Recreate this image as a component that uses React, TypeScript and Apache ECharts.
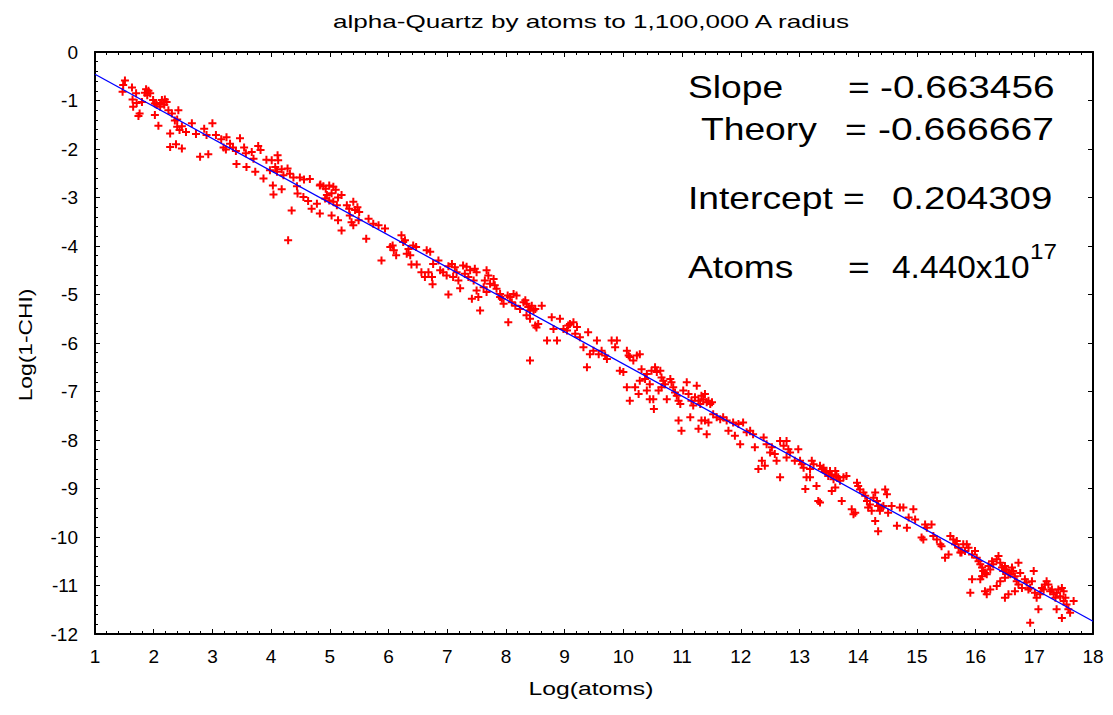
import React, { useEffect, useRef } from "react";
import * as echarts from "echarts";

const FONT = "'Liberation Sans', Arial, Helvetica, sans-serif";

const titleText = "alpha-Quartz by atoms to 1,100,000 A radius";
const xName = "Log(atoms)";
const yName = "Log(1-CHI)";

const xTicks = { min: 1, max: 18, step: 1 };
const yTicks = { min: -12, max: 0, step: 1 };

// fit line endpoints (slope -0.663456, intercept 0.204309)
const fitLine: [number, number][] = [
  [1, -0.459],
  [18, -11.738],
];

const statLabels = ["Slope", "Theory", "Intercept", "Atoms"];
const statValues = ["-0.663456", "-0.666667", "0.204309", "4.440x10"];
const atomsExponent = "17";

const pointsA: [number, number][] = [
  [1.51, -0.59], [1.48, -0.68], [1.47, -0.82], [1.63, -0.73], [1.7, -0.85], [1.64, -0.98], [1.71, -1.05],
  [1.65, -1.13], [1.76, -1.27], [1.74, -1.32], [1.87, -0.77], [1.91, -0.8], [1.94, -0.85], [1.85, -0.84],
  [1.89, -0.89], [1.8, -1.03], [1.99, -0.99], [2.02, -1.06], [2.05, -1.09], [2.11, -1.05], [2.14, -0.99],
  [2.19, -0.98], [2.22, -1.03], [2.18, -1.09], [2.11, -1.13], [2.25, -1.2], [2.31, -1.27], [2.42, -1.2],
  [2.4, -1.39], [2.36, -1.41], [2.02, -1.3], [2.08, -1.52], [2.28, -1.68], [2.4, -1.54], [2.44, -1.61],
  [2.48, -1.53], [2.55, -1.65], [2.65, -1.47], [2.28, -1.96], [2.38, -1.9], [2.48, -1.99], [2.72, -1.69],
  [2.86, -1.58], [3.0, -1.47], [2.9, -1.71], [2.79, -2.16], [2.93, -2.11], [3.06, -1.71], [3.15, -1.8],
  [3.24, -1.76], [3.19, -1.97], [3.23, -2.01], [3.3, -1.89], [3.35, -1.97], [3.47, -1.78], [3.4, -2.04],
  [3.41, -2.31], [3.54, -1.97], [3.57, -2.09], [3.67, -2.06], [3.78, -1.94], [3.82, -2.02], [3.7, -2.2],
  [3.58, -2.37], [3.73, -2.47], [3.87, -2.61], [3.92, -2.22], [4.01, -2.23], [4.11, -2.13], [4.12, -2.23],
  [4.07, -2.37], [3.98, -2.44], [4.1, -2.47], [4.18, -2.42], [4.21, -2.54], [4.03, -2.75], [4.04, -2.94],
  [4.18, -2.83], [4.28, -2.4], [4.32, -2.51], [4.38, -2.59], [4.44, -2.77], [4.49, -2.59], [4.56, -2.63],
  [4.66, -2.62], [4.45, -2.92], [4.55, -2.99], [4.63, -3.07], [4.35, -3.27], [4.29, -3.88], [4.83, -2.75],
  [4.78, -3.13], [4.69, -3.23], [4.83, -3.33],
];

const pointsB: [number, number][] = [
  [4.84, -2.73], [4.89, -2.77], [4.93, -2.82], [4.99, -2.75], [5.06, -2.78], [5.1, -2.84], [5.03, -2.91],
  [4.95, -2.95], [4.92, -3.02], [4.99, -3.06], [5.06, -3.09], [5.14, -3.0], [5.2, -2.95], [5.12, -3.16],
  [5.03, -3.37], [5.14, -3.47], [5.2, -3.68], [5.29, -3.16], [5.33, -3.23], [5.4, -3.09], [5.43, -3.26],
  [5.47, -3.2], [5.5, -3.3], [5.34, -3.37], [5.37, -3.51], [5.4, -3.57], [5.49, -3.47], [5.66, -3.44],
  [5.62, -3.85], [5.74, -3.54], [5.83, -3.57], [5.94, -3.64], [5.88, -4.3], [6.03, -4.02], [6.07, -3.99],
  [6.13, -4.19], [6.09, -4.09], [6.22, -3.78], [6.28, -3.88], [6.31, -4.16], [6.25, -3.92], [6.34, -4.06],
  [6.37, -4.19], [6.42, -3.99], [6.47, -4.02], [6.39, -4.38], [6.48, -4.38], [6.65, -4.09], [6.71, -4.12],
  [6.85, -4.3], [6.76, -4.37], [6.68, -4.54], [6.62, -4.64], [6.56, -4.54], [6.74, -4.64], [6.75, -4.79],
  [6.88, -4.5], [6.93, -4.54], [6.99, -4.61], [7.02, -4.42], [7.08, -4.37], [7.13, -4.44], [7.16, -4.54],
  [7.19, -4.71], [7.1, -4.64], [7.02, -5.0], [7.22, -4.87], [7.27, -4.4], [7.33, -4.43], [7.39, -4.5],
  [7.3, -4.57], [7.36, -4.64], [7.47, -4.47], [7.5, -4.54], [7.45, -4.71], [7.5, -4.92], [7.53, -5.05],
  [7.42, -5.09], [7.56, -5.33], [7.64, -4.71], [7.67, -4.5], [7.7, -4.61], [7.73, -4.78], [7.79, -4.68],
  [7.81, -4.81], [7.62, -4.85], [7.67, -4.95], [7.84, -4.88], [7.9, -4.99], [7.9, -5.05],
];

const pointsC: [number, number][] = [
  [7.93, -5.09], [7.96, -5.19], [8.03, -5.02], [8.07, -5.05], [8.13, -4.99], [8.18, -5.02], [8.1, -5.16],
  [8.16, -5.23], [8.24, -5.3], [8.3, -5.16], [8.33, -5.12], [8.35, -5.19], [8.38, -5.26], [8.41, -5.33],
  [8.44, -5.23], [8.47, -5.33], [8.5, -5.3], [8.35, -5.43], [8.41, -5.5], [8.5, -5.64], [8.52, -5.68],
  [8.55, -5.61], [8.04, -5.57], [8.41, -6.36], [8.61, -5.23], [8.7, -5.95], [8.78, -5.47], [8.81, -5.71],
  [8.87, -5.95], [8.92, -5.5], [8.98, -5.71], [9.04, -5.74], [9.06, -5.64], [9.09, -5.61], [9.15, -5.57],
  [9.18, -5.81], [9.21, -5.67], [9.26, -5.88], [9.32, -6.09], [9.38, -6.5], [9.4, -5.78], [9.43, -6.23],
  [9.49, -6.16], [9.55, -5.95], [9.58, -6.23], [9.63, -6.16], [9.69, -6.26], [9.72, -6.33], [9.8, -5.95],
  [9.89, -5.95], [9.86, -6.09], [9.94, -6.57], [10.0, -6.6], [10.06, -6.16], [10.09, -6.26], [10.11, -6.29],
  [10.17, -6.36], [10.2, -6.91], [10.23, -6.26], [10.28, -6.23], [10.31, -6.54], [10.37, -6.74],
  [10.4, -6.64], [10.45, -6.85], [10.11, -7.19], [10.26, -7.05], [10.28, -6.78], [10.06, -6.91],
  [10.4, -6.98], [10.45, -7.16],
];

const pointsD: [number, number][] = [
  [10.48, -6.57], [10.54, -6.5], [10.57, -6.6], [10.63, -6.57], [10.65, -6.71], [10.68, -6.78],
  [10.71, -6.85], [10.74, -7.16], [10.65, -6.91], [10.6, -6.98], [10.51, -7.16], [10.52, -7.36],
  [10.8, -6.74], [10.82, -6.81], [10.85, -6.91], [10.88, -7.02], [10.91, -7.09], [10.94, -7.19],
  [10.97, -7.26], [10.94, -7.6], [10.99, -7.81], [11.02, -6.98], [11.08, -6.81], [11.11, -7.05],
  [11.16, -7.19], [11.19, -7.29], [11.22, -7.12], [11.25, -6.88], [11.28, -7.19], [11.31, -7.26],
  [11.33, -7.09], [11.36, -7.16], [11.39, -7.05], [11.42, -7.22], [11.45, -7.19], [11.48, -7.26],
  [11.51, -7.22], [11.14, -7.53], [11.28, -7.77], [11.33, -7.6], [11.39, -7.6], [11.45, -7.64],
  [11.42, -7.88], [11.53, -7.47], [11.59, -7.53], [11.65, -7.57], [11.7, -7.53], [11.76, -7.6],
  [11.79, -7.81], [11.9, -7.91], [11.87, -7.64], [11.96, -7.67], [12.04, -7.64], [11.99, -8.09],
  [12.1, -7.84], [12.16, -7.81], [12.21, -7.88], [12.24, -8.15], [12.3, -8.6], [12.36, -8.43],
  [12.41, -8.53], [12.39, -7.95], [12.44, -8.09], [12.53, -8.15], [12.5, -8.26], [12.58, -8.29],
  [12.61, -8.43], [12.67, -8.02], [12.73, -8.12], [12.78, -8.02], [12.81, -8.19], [12.78, -8.36],
  [12.67, -8.77], [12.84, -8.26], [12.92, -8.43], [12.98, -8.19], [13.01, -8.43], [13.04, -8.5],
  [13.07, -8.57], [13.1, -9.01], [13.12, -8.77], [13.18, -8.6], [13.18, -8.77],
];

const pointsE: [number, number][] = [
  [13.21, -8.43], [13.24, -8.5], [13.35, -8.53], [13.38, -8.6], [13.41, -8.57], [13.44, -8.64],
  [13.46, -8.67], [13.49, -8.74], [13.52, -8.64], [13.55, -8.71], [13.58, -8.81], [13.61, -8.64],
  [13.63, -8.74], [13.66, -8.77], [13.69, -8.84], [13.75, -8.77], [13.8, -8.74], [13.29, -8.95],
  [13.32, -9.26], [13.35, -9.29], [13.55, -9.05], [13.61, -8.98], [13.72, -9.26], [13.89, -9.43],
  [13.92, -9.53], [13.95, -9.5], [13.98, -8.88], [14.0, -8.95], [14.03, -9.02], [14.09, -9.08],
  [14.12, -9.15], [14.15, -9.26], [14.17, -9.39], [14.2, -9.33], [14.23, -9.46], [14.26, -9.19],
  [14.29, -9.08], [14.32, -9.26], [14.34, -9.36], [14.37, -9.46], [14.4, -9.39], [14.43, -9.36],
  [14.46, -9.02], [14.49, -9.12], [14.29, -9.67], [14.34, -9.88], [14.51, -9.5], [14.57, -9.36],
  [14.66, -9.77], [14.71, -9.39], [14.77, -9.39], [14.83, -9.81], [14.86, -9.6], [14.94, -9.43],
  [14.97, -9.64], [15.08, -10.01], [15.11, -10.05], [15.14, -9.74], [15.17, -9.81], [15.25, -9.74],
  [15.28, -9.98], [15.34, -10.05], [15.4, -10.15], [15.42, -10.19], [15.48, -10.43], [15.54, -10.36],
  [15.57, -9.98], [15.62, -10.05], [15.65, -10.15], [15.68, -10.08], [15.71, -10.22], [15.74, -10.32],
];

const pointsF: [number, number][] = [
  [15.76, -10.32], [15.82, -10.29], [15.79, -10.15], [15.85, -10.15], [15.88, -10.22], [15.94, -10.36],
  [15.99, -10.29], [16.02, -10.43], [16.05, -10.5], [16.08, -10.56], [16.11, -10.63], [16.13, -10.7],
  [16.16, -10.74], [16.19, -10.77], [16.11, -10.81], [16.08, -10.87], [16.22, -10.6], [16.25, -10.67],
  [16.28, -10.5], [16.3, -10.56], [16.36, -10.46], [16.39, -10.39], [16.42, -10.53], [16.45, -10.63],
  [16.47, -10.7], [16.5, -10.6], [16.53, -10.67], [16.56, -10.74], [16.59, -10.77], [16.62, -10.63],
  [16.64, -10.7], [16.67, -10.81], [16.7, -10.91], [16.73, -10.53], [16.76, -10.74], [16.5, -10.84],
  [16.42, -10.91], [16.36, -11.01], [16.25, -11.08], [16.16, -11.12], [16.19, -11.18], [15.94, -10.87],
  [15.91, -11.15], [16.5, -11.25], [16.56, -11.18], [16.67, -11.12], [16.73, -10.98], [16.79, -11.05],
  [16.84, -10.87], [16.87, -10.94], [16.9, -11.08], [16.93, -11.05], [16.96, -10.91], [16.99, -10.7],
  [17.01, -11.15], [17.04, -11.25], [17.07, -11.49], [17.1, -11.18], [17.13, -11.05], [17.16, -11.08],
  [17.18, -10.98], [17.21, -10.91], [17.24, -10.98], [17.27, -11.12], [17.3, -11.08], [17.33, -11.18],
  [17.36, -11.25], [17.38, -11.15], [17.41, -11.08], [17.44, -11.22], [17.47, -11.05], [17.5, -11.12],
  [17.53, -11.25], [17.5, -11.32], [17.55, -11.39], [17.58, -11.49], [17.61, -11.56], [17.47, -11.67],
  [17.38, -11.49], [17.67, -11.32], [16.93, -11.77],
];

const PLUS = "path://M3,0H5V3H8V5H5V8H3V5H0V3H3Z";

function axisCommon(min: number, max: number, step: number) {
  return {
    type: "value",
    min,
    max,
    interval: step,
    splitLine: { show: false },
    axisLine: { show: true, onZero: false, lineStyle: { color: "#000", width: 2 } },
    axisTick: { show: true, inside: true, length: 5, lineStyle: { color: "#000", width: 1 } },
  };
}

export default function App() {
  const ref = useRef<HTMLDivElement>(null);
  useEffect(() => {
    if (!ref.current) return;
    const chart = echarts.init(ref.current, undefined, { renderer: "svg" });
    const labelStyle = { color: "#000", fontSize: 19, fontFamily: FONT };
    const minor = { show: true, splitNumber: 5, length: 3, lineStyle: { color: "#000", width: 1 } };
    const bigFont = `31px ${FONT}`;
    const rowsY = [87, 129, 198, 267];
    const labelX = [688, 701, 688, 688];
    const eqX = [848, 845, 843, 848];
    const valX = [880, 878, 892, 892];
    const valScale = [1.25, 1.26, 1.24, 1.08];
    const graphics: any[] = [
      {
        type: "text",
        x: 591,
        y: 22,
        scaleX: 1.45,
        style: { text: titleText, font: `18px ${FONT}`, fill: "#000", textAlign: "center", textVerticalAlign: "middle" },
      },
      {
        type: "text",
        x: 591,
        y: 689,
        scaleX: 1.3,
        style: { text: xName, font: `19px ${FONT}`, fill: "#000", textAlign: "center", textVerticalAlign: "middle" },
      },
      {
        type: "text",
        x: 25,
        y: 345,
        rotation: Math.PI / 2,
        scaleX: 1.2,
        style: { text: yName, font: `19px ${FONT}`, fill: "#000", textAlign: "center", textVerticalAlign: "middle" },
      },
    ];
    statLabels.forEach((lab, i) => {
      graphics.push({
        type: "text",
        x: labelX[i],
        y: rowsY[i],
        scaleX: 1.2,
        style: { text: lab, font: bigFont, fill: "#000", textAlign: "left", textVerticalAlign: "middle" },
      });
      graphics.push({
        type: "text",
        x: eqX[i],
        y: rowsY[i],
        scaleX: 1.2,
        style: { text: "=", font: bigFont, fill: "#000", textAlign: "left", textVerticalAlign: "middle" },
      });
      graphics.push({
        type: "text",
        x: valX[i],
        y: rowsY[i],
        scaleX: valScale[i],
        style: { text: statValues[i], font: bigFont, fill: "#000", textAlign: "left", textVerticalAlign: "middle" },
      });
    });
    graphics.push({
      type: "text",
      x: 1030,
      y: 251,
      scaleX: 1.1,
      style: { text: atomsExponent, font: `22px ${FONT}`, fill: "#000", textAlign: "left", textVerticalAlign: "middle" },
    });

    const option: any = {
      animation: false,
      backgroundColor: "#fff",
      grid: { left: 95, right: 20, top: 52, bottom: 81 },
      xAxis: [
        {
          ...axisCommon(xTicks.min, xTicks.max, xTicks.step),
          position: "bottom",
          minorTick: minor,
          axisLabel: { ...labelStyle, margin: 13 },
        },
        {
          ...axisCommon(xTicks.min, xTicks.max, xTicks.step),
          position: "top",
          minorTick: minor,
          axisLabel: { show: false },
        },
      ],
      yAxis: [
        {
          ...axisCommon(yTicks.min, yTicks.max, yTicks.step),
          position: "left",
          minorTick: minor,
          axisLabel: { ...labelStyle, margin: 17 },
        },
        {
          ...axisCommon(yTicks.min, yTicks.max, yTicks.step),
          position: "right",
          axisLabel: { show: false },
        },
      ],
      graphic: graphics,
      series: [
        {
          type: "scatter",
          xAxisIndex: 0,
          yAxisIndex: 0,
          symbol: PLUS,
          symbolSize: 8,
          itemStyle: { color: "#ff0000", opacity: 1 },
          data: [...pointsA, ...pointsB, ...pointsC, ...pointsD, ...pointsE, ...pointsF],
          z: 2,
        },
        {
          type: "line",
          xAxisIndex: 0,
          yAxisIndex: 0,
          data: fitLine,
          symbol: "none",
          lineStyle: { color: "#0000ff", width: 1.3 },
          z: 3,
        },
      ],
    };
    chart.setOption(option);
    return () => chart.dispose();
  }, []);
  return (
    <div
      ref={ref}
      style={{ position: "fixed", left: 0, top: 0, width: 1113, height: 715, background: "#fff" }}
    />
  );
}
